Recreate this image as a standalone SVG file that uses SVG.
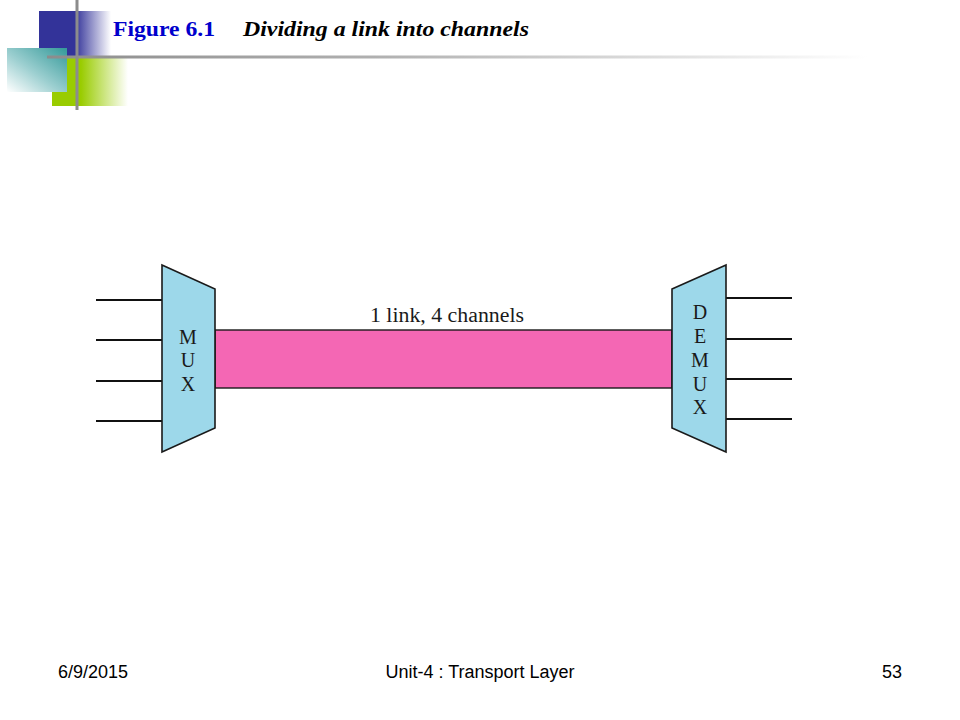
<svg xmlns="http://www.w3.org/2000/svg" width="960" height="720" viewBox="0 0 960 720">
  <defs>
    <linearGradient id="gBlue" x1="0" y1="0" x2="1" y2="0">
      <stop offset="0" stop-color="#333399"/>
      <stop offset="0.5" stop-color="#333399"/>
      <stop offset="1" stop-color="#333399" stop-opacity="0"/>
    </linearGradient>
    <linearGradient id="gGreen" x1="0" y1="0" x2="1" y2="0">
      <stop offset="0" stop-color="#99CC00"/>
      <stop offset="0.38" stop-color="#99CC00"/>
      <stop offset="1" stop-color="#99CC00" stop-opacity="0"/>
    </linearGradient>
    <linearGradient id="gTeal" x1="1" y1="0" x2="0" y2="1">
      <stop offset="0" stop-color="#339999"/>
      <stop offset="0.55" stop-color="#9ccfd0"/>
      <stop offset="1" stop-color="#ffffff"/>
    </linearGradient>
    <linearGradient id="gLine" x1="0" y1="0" x2="1" y2="0">
      <stop offset="0" stop-color="#8c8c8c"/>
      <stop offset="0.4" stop-color="#b0b0b0"/>
      <stop offset="1" stop-color="#ffffff"/>
    </linearGradient>
    <style>
      .dev { fill: #9DD8EA; stroke: #1a1a1a; stroke-width: 1.6; }
      .wire { stroke: #111; stroke-width: 2.2; fill: none; }
      .lt { font-family: "Liberation Serif", "Times New Roman", serif; font-size: 20px; fill: #1a1a1a; text-anchor: middle; }
      .foot { font-family: "Liberation Sans", Arial, sans-serif; font-size: 18px; fill: #000; }
    </style>
  </defs>

  <rect x="0" y="0" width="960" height="720" fill="#ffffff"/>

  <!-- decoration -->
  <g id="decoration">
    <rect x="39" y="11" width="72" height="46" fill="url(#gBlue)"/>
    <rect x="52" y="58" width="76" height="48" fill="url(#gGreen)"/>
    <rect x="7" y="48" width="60" height="44" fill="url(#gTeal)"/>
    <rect x="47" y="55.5" width="820" height="3" fill="url(#gLine)"/>
    <rect x="75.5" y="0" width="3" height="110" fill="#8c8c8c"/>
  </g>

  <!-- title -->
  <g id="title">
    <text x="113" y="36" font-family="'Liberation Serif', 'Times New Roman', serif" font-size="22" font-weight="bold" fill="#0000CC" textLength="102" lengthAdjust="spacingAndGlyphs">Figure 6.1</text>
    <text x="243" y="36" font-family="'Liberation Serif', 'Times New Roman', serif" font-size="22" font-weight="bold" font-style="italic" fill="#000" textLength="286" lengthAdjust="spacingAndGlyphs">Dividing a link into channels</text>
  </g>

  <!-- connectors -->
  <g id="connectors">
    <line class="wire" x1="96" y1="300" x2="162" y2="300"/>
    <line class="wire" x1="96" y1="340" x2="162" y2="340"/>
    <line class="wire" x1="96" y1="381" x2="162" y2="381"/>
    <line class="wire" x1="96" y1="421" x2="162" y2="421"/>
    <line class="wire" x1="726" y1="298" x2="792" y2="298"/>
    <line class="wire" x1="726" y1="339" x2="792" y2="339"/>
    <line class="wire" x1="726" y1="379" x2="792" y2="379"/>
    <line class="wire" x1="726" y1="419" x2="792" y2="419"/>
  </g>

  <!-- link -->
  <g id="link">
    <rect x="215" y="330" width="457" height="58" fill="#F467B4" stroke="#1a1a1a" stroke-width="1.4"/>
    <text class="lt" x="447" y="322" textLength="154" lengthAdjust="spacingAndGlyphs">1 link, 4 channels</text>
  </g>

  <!-- MUX -->
  <g id="mux">
    <polygon class="dev" points="162,265 215,289 215,428 162,452"/>
    <text class="lt" x="188" y="344">M</text>
    <text class="lt" x="188" y="367">U</text>
    <text class="lt" x="188" y="391">X</text>
  </g>

  <!-- DEMUX -->
  <g id="demux">
    <polygon class="dev" points="672,289 726,265 726,452 672,428"/>
    <text class="lt" x="700" y="319">D</text>
    <text class="lt" x="700" y="343">E</text>
    <text class="lt" x="700" y="367">M</text>
    <text class="lt" x="700" y="391">U</text>
    <text class="lt" x="700" y="414">X</text>
  </g>

  <!-- footer -->
  <g id="footer">
    <text class="foot" x="58" y="678">6/9/2015</text>
    <text class="foot" x="480" y="678" text-anchor="middle">Unit-4 : Transport Layer</text>
    <text class="foot" x="902" y="678" text-anchor="end">53</text>
  </g>
</svg>
